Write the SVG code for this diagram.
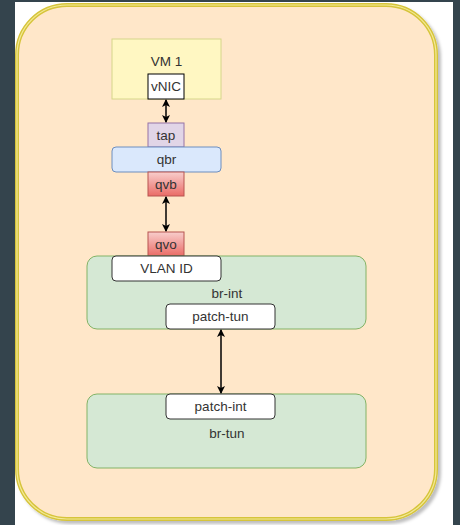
<svg xmlns="http://www.w3.org/2000/svg" width="460" height="525" viewBox="0 0 460 525">
  <defs>
    <style>
      text { font-family: "Liberation Sans", Arial, sans-serif; font-size: 13.5px; fill: #333333; text-anchor: middle; dominant-baseline: central; }
      .port { fill: #ffffff; stroke: #000000; stroke-width: 1; }
      .pill { fill: #ffffff; stroke: #333333; stroke-width: 1; }
      .bridge { fill: #d5e8d4; stroke: #82b366; stroke-width: 1; }
      .red { fill: url(#redgrad); stroke: #b85450; stroke-width: 1; }
      .conn { stroke: #000000; stroke-width: 1.5; fill: none; marker-start: url(#arrS); marker-end: url(#arrE); }
    </style>
    <linearGradient id="redgrad" x1="0" y1="0" x2="0" y2="1">
      <stop offset="0" stop-color="#f8cecc"/>
      <stop offset="1" stop-color="#ea6b66"/>
    </linearGradient>
    <marker id="arrE" markerWidth="8" markerHeight="8" refX="7" refY="4" orient="auto" markerUnits="userSpaceOnUse">
      <path d="M0,0 L8,4 L0,8 L2,4 Z" fill="#000"/>
    </marker>
    <marker id="arrS" markerWidth="8" markerHeight="8" refX="1" refY="4" orient="auto" markerUnits="userSpaceOnUse">
      <path d="M8,0 L0,4 L8,8 L6,4 Z" fill="#000"/>
    </marker>
    <filter id="shadow" x="-5%" y="-5%" width="112%" height="112%">
      <feDropShadow dx="3" dy="3" stdDeviation="1.5" flood-color="#000" flood-opacity="0.25"/>
    </filter>
  </defs>
  <rect x="0" y="0" width="460" height="525" fill="#34444d"/>
  <rect x="15" y="2" width="438" height="523" fill="#ffffff"/>

  <g id="host">
    <rect x="17" y="5" width="419" height="514" rx="50" ry="50" fill="#ffe7c9" stroke="#d6c43a" stroke-width="4" filter="url(#shadow)"/>
    <rect x="17" y="5" width="419" height="514" rx="50" ry="50" fill="none" stroke="#f3ea98" stroke-width="1.2"/>
  </g>

  <g id="vm1">
    <rect x="112" y="39" width="109" height="60" fill="#fff7c2" stroke="#d6d68a" stroke-width="1"/>
    <text x="166.5" y="61">VM 1</text>
  </g>
  <g id="vnic">
    <rect class="port" x="148" y="74" width="36" height="25"/>
    <text x="166" y="86.5">vNIC</text>
  </g>
  <g id="tap">
    <rect x="148" y="123" width="36" height="24" fill="#e1d5e7" stroke="#9673a6" stroke-width="1"/>
    <text x="166" y="135">tap</text>
  </g>
  <g id="qbr">
    <rect x="112" y="147" width="109" height="25" rx="4" ry="4" fill="#dae8fc" stroke="#6c8ebf" stroke-width="1"/>
    <text x="166.5" y="159.5">qbr</text>
  </g>
  <g id="qvb">
    <rect class="red" x="148" y="172" width="36" height="24"/>
    <text x="166" y="184">qvb</text>
  </g>
  <g id="qvo">
    <rect class="red" x="148" y="232" width="36" height="24"/>
    <text x="166" y="244">qvo</text>
  </g>

  <g id="br-int">
    <rect class="bridge" x="87" y="256" width="279" height="73" rx="10" ry="10"/>
    <text x="227" y="293">br-int</text>
  </g>
  <g id="vlan-id">
    <rect class="pill" x="112" y="256" width="109" height="25" rx="4" ry="4"/>
    <text x="166.5" y="268.5">VLAN ID</text>
  </g>
  <g id="patch-tun">
    <rect class="pill" x="166" y="304" width="109" height="25" rx="4" ry="4"/>
    <text x="220.5" y="316.5">patch-tun</text>
  </g>

  <g id="br-tun">
    <rect class="bridge" x="87" y="394" width="279" height="74" rx="10" ry="10"/>
    <text x="227" y="433">br-tun</text>
  </g>
  <g id="patch-int">
    <rect class="pill" x="166" y="394" width="109" height="25" rx="4" ry="4"/>
    <text x="220.5" y="406.5">patch-int</text>
  </g>

  <g id="connectors">
    <line class="conn" x1="166" y1="100" x2="166" y2="122"/>
    <line class="conn" x1="166" y1="197" x2="166" y2="231"/>
    <line class="conn" x1="221" y1="330" x2="221" y2="393" stroke="#2a1f1f"/>
  </g>
</svg>
